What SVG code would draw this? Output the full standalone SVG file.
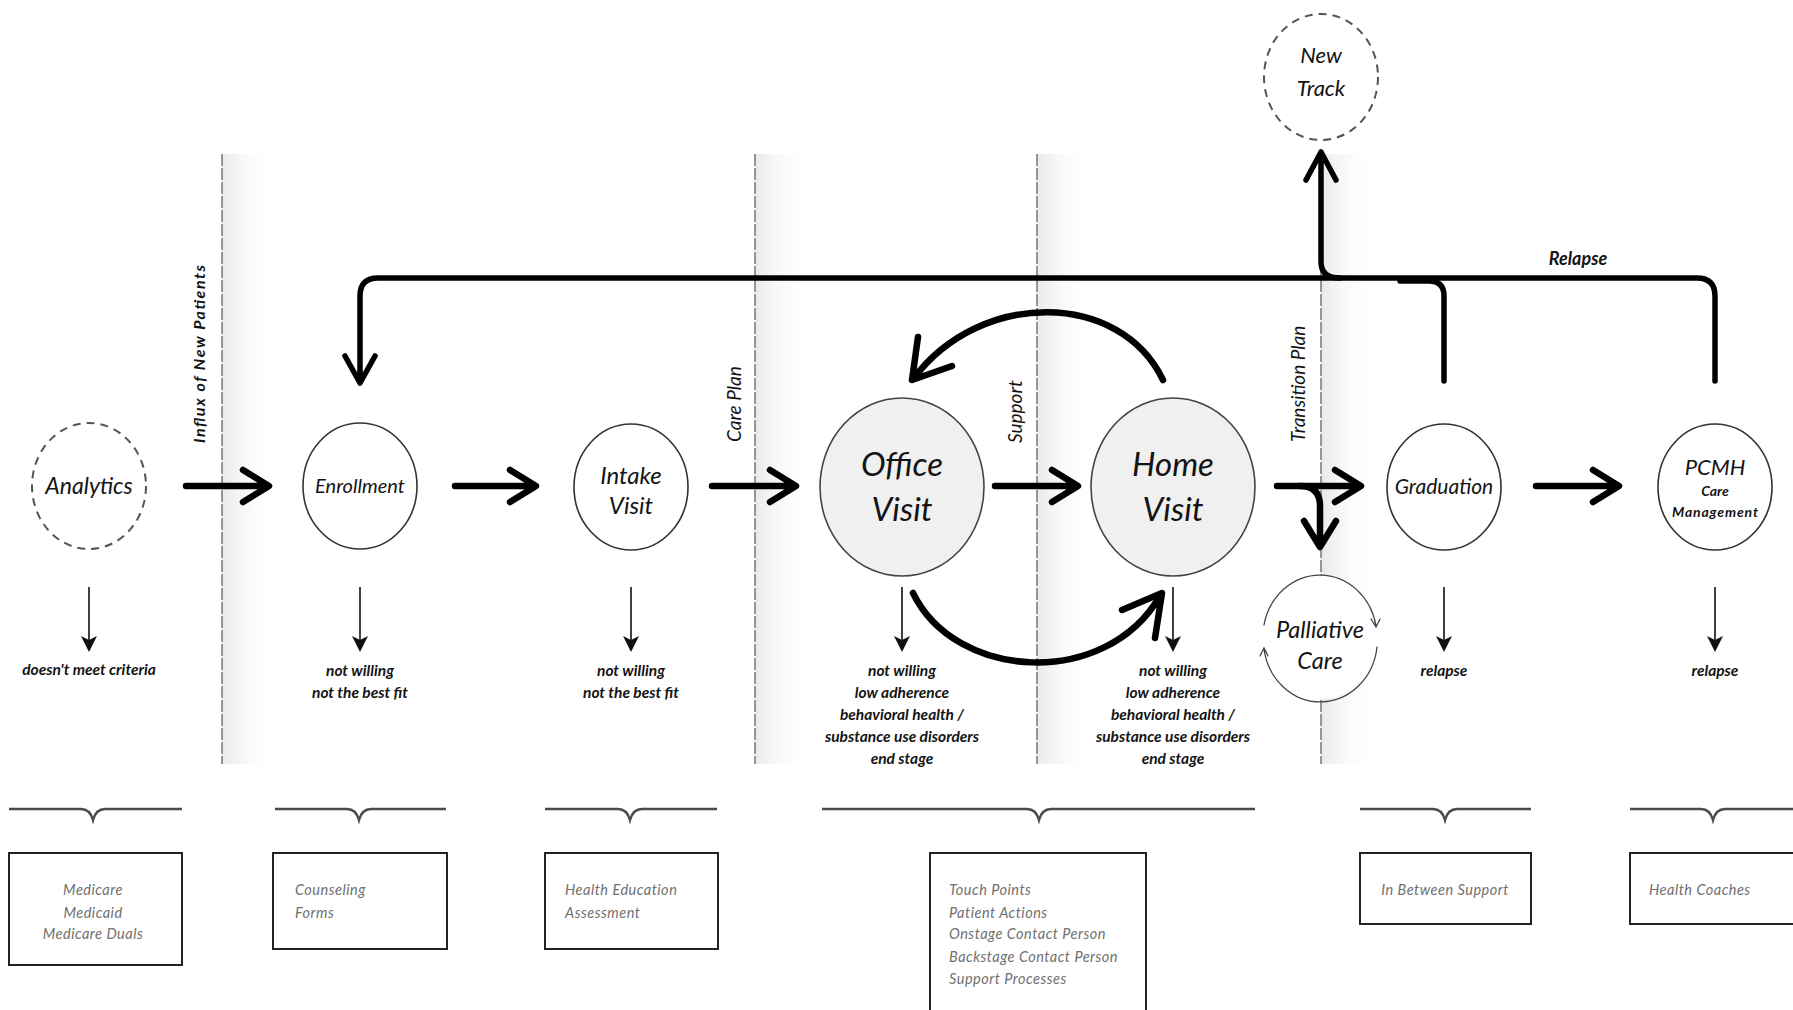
<svg xmlns="http://www.w3.org/2000/svg" width="1793" height="1010" viewBox="0 0 1793 1010">
  <defs>
    <linearGradient id="lane" x1="0" y1="0" x2="1" y2="0">
      <stop offset="0" stop-color="#e8eae9"/>
      <stop offset="1" stop-color="#ffffff" stop-opacity="0"/>
    </linearGradient>
    <style>
      text { font-family: Lato, "Open Sans", "Liberation Sans", sans-serif; fill: #141414; }
      .lbl { font-style: italic; text-anchor: middle; }
      .note { font-style: italic; font-weight: bold; font-size: 15.5px; text-anchor: middle; }
      .lane-title { font-style: italic; font-size: 19px; }
      .box-txt { font-style: italic; font-size: 14.5px; letter-spacing: 0.5px; fill: #707070; }
      .divider { stroke: #555; stroke-width: 1.2; stroke-dasharray: 12 2; fill: none; }
      .node { fill: #ffffff; stroke: #333; stroke-width: 1.6; }
      .node-dash { fill: #ffffff; stroke: #555; stroke-width: 2; stroke-dasharray: 8 6; }
      .node-main { fill: #eff0ef; stroke: #444; stroke-width: 1.6; }
      .flow { fill: none; stroke: #000; stroke-width: 6.5; stroke-linecap: round; stroke-linejoin: round; }
      .loop { fill: none; stroke: #000; stroke-width: 5.5; stroke-linecap: round; stroke-linejoin: round; }
      .drop { fill: none; stroke: #111; stroke-width: 1.6; }
      .drop-head { fill: #111; }
      .brace { fill: none; stroke: #4a4a4a; stroke-width: 2.5; }
      .box { fill: #ffffff; stroke: #222; stroke-width: 2; }
      .thin { fill: none; stroke: #444; stroke-width: 1.3; stroke-linecap: round; }
    </style>
  </defs>

  <!-- lane shading and dividers -->
  <g id="lanes">
    <rect x="222" y="154" width="55" height="610" fill="url(#lane)"/>
    <rect x="755" y="154" width="55" height="610" fill="url(#lane)"/>
    <rect x="1037" y="154" width="55" height="610" fill="url(#lane)"/>
    <rect x="1321" y="154" width="55" height="610" fill="url(#lane)"/>
    <line class="divider" x1="222" y1="154" x2="222" y2="764"/>
    <line class="divider" x1="755" y1="154" x2="755" y2="764"/>
    <line class="divider" x1="1037" y1="154" x2="1037" y2="764"/>
    <line class="divider" x1="1321" y1="154" x2="1321" y2="764"/>
    <text class="lane-title" style="font-weight:bold;font-size:16px" transform="translate(205,443) rotate(-90)" textLength="178" lengthAdjust="spacing">Influx of New Patients</text>
    <text class="lane-title" transform="translate(741,442) rotate(-90)">Care Plan</text>
    <text class="lane-title" transform="translate(1022,443) rotate(-90)">Support</text>
    <text class="lane-title" transform="translate(1305,442) rotate(-90)">Transition Plan</text>
  </g>

  <!-- connectors -->
  <g id="connectors">
    <!-- main flow -->
    <path class="flow" d="M186,486 H268 M243,470 L269,486 L243,502"/>
    <path class="flow" d="M455,486 H535 M510,470 L536,486 L510,502"/>
    <path class="flow" d="M712,486 H795 M770,470 L796,486 L770,502"/>
    <path class="flow" d="M995,486 H1077 M1052,470 L1078,486 L1052,502"/>
    <path class="flow" d="M1277,486 H1360 M1335,470 L1361,486 L1335,502"/>
    <path class="flow" d="M1300,486 Q1320,486 1320,506 V546 M1304,521 L1320,547 L1336,521"/>
    <path class="flow" d="M1536,486 H1618 M1593,470 L1619,486 L1593,502"/>

    <!-- office / home loop -->
    <path class="flow" d="M1163,380 C1120,290 980,290 914,378 M918,337 L912,380 L952,366"/>
    <path class="flow" d="M913,593 C955,680 1105,690 1160,596 M1122,610 L1162,593 L1155,638"/>

    <!-- relapse and new track -->
    <path class="loop" d="M1715,381 V296 Q1715,278 1697,278 H378 Q360,278 360,296 V382 M345,356 L360,383 L375,356"/>
    <path class="loop" d="M1444,381 V296 Q1444,281 1429,281 H1400"/>
    <path class="loop" d="M1340,278 Q1321,278 1321,262 V154 M1306,180 L1321,152 L1336,180"/>
    <text x="1578" y="265" class="note" style="font-size:18px">Relapse</text>

    <!-- drop-off arrows -->
    <g>
      <path class="drop" d="M89,587 V642 M360,587 V642 M631,587 V642 M902,587 V642 M1173,587 V642 M1444,587 V642 M1715,587 V642"/>
      <path class="drop-head" d="M81,636 L89,652 L97,636 L89,640 Z"/>
      <path class="drop-head" d="M352,636 L360,652 L368,636 L360,640 Z"/>
      <path class="drop-head" d="M623,636 L631,652 L639,636 L631,640 Z"/>
      <path class="drop-head" d="M894,636 L902,652 L910,636 L902,640 Z"/>
      <path class="drop-head" d="M1165,636 L1173,652 L1181,636 L1173,640 Z"/>
      <path class="drop-head" d="M1436,636 L1444,652 L1452,636 L1444,640 Z"/>
      <path class="drop-head" d="M1707,636 L1715,652 L1723,636 L1715,640 Z"/>
    </g>

    <!-- braces -->
    <path class="brace" d="M9,809 H81 Q90,809 93,820 Q96,809 105,809 H182"/>
    <path class="brace" d="M275,809 H347 Q356,809 359,820 Q362,809 371,809 H446"/>
    <path class="brace" d="M545,809 H618 Q627,809 630,820 Q633,809 642,809 H717"/>
    <path class="brace" d="M822,809 H1027 Q1036,809 1039,820 Q1042,809 1051,809 H1255"/>
    <path class="brace" d="M1360,809 H1433 Q1442,809 1445,820 Q1448,809 1457,809 H1531"/>
    <path class="brace" d="M1630,809 H1701 Q1710,809 1713,820 Q1716,809 1725,809 H1800"/>
  </g>

  <!-- nodes -->
  <g id="node-new-track">
    <ellipse class="node-dash" cx="1321" cy="77" rx="57" ry="63"/>
    <text class="lbl" x="1321" y="63" font-size="22">New</text>
    <text class="lbl" x="1321" y="96" font-size="22">Track</text>
  </g>

  <g id="node-analytics">
    <ellipse class="node-dash" cx="89" cy="486" rx="57" ry="63"/>
    <text class="lbl" x="89" y="494" font-size="23">Analytics</text>
    <text class="note" x="89" y="675">doesn't meet criteria</text>
  </g>

  <g id="node-enrollment">
    <ellipse class="node" cx="360" cy="486" rx="57" ry="63"/>
    <text class="lbl" x="360" y="493" font-size="20">Enrollment</text>
    <text class="note" x="360" y="676">not willing</text>
    <text class="note" x="360" y="698">not the best fit</text>
  </g>

  <g id="node-intake">
    <ellipse class="node" cx="631" cy="487" rx="57" ry="63"/>
    <text class="lbl" x="631" y="484" font-size="24">Intake</text>
    <text class="lbl" x="631" y="514" font-size="24">Visit</text>
    <text class="note" x="631" y="676">not willing</text>
    <text class="note" x="631" y="698">not the best fit</text>
  </g>

  <g id="node-office">
    <ellipse class="node-main" cx="902" cy="487" rx="82" ry="89"/>
    <text class="lbl" x="902" y="476" font-size="33">Office</text>
    <text class="lbl" x="902" y="521" font-size="33">Visit</text>
    <text class="note" x="902" y="676">not willing</text>
    <text class="note" x="902" y="698">low adherence</text>
    <text class="note" x="902" y="720">behavioral health /</text>
    <text class="note" x="902" y="742">substance use disorders</text>
    <text class="note" x="902" y="764">end stage</text>
  </g>

  <g id="node-home">
    <ellipse class="node-main" cx="1173" cy="487" rx="82" ry="89"/>
    <text class="lbl" x="1173" y="476" font-size="33">Home</text>
    <text class="lbl" x="1173" y="521" font-size="33">Visit</text>
    <text class="note" x="1173" y="676">not willing</text>
    <text class="note" x="1173" y="698">low adherence</text>
    <text class="note" x="1173" y="720">behavioral health /</text>
    <text class="note" x="1173" y="742">substance use disorders</text>
    <text class="note" x="1173" y="764">end stage</text>
  </g>

  <g id="node-palliative">
    <ellipse cx="1320" cy="637" rx="57" ry="62" fill="#ffffff"/>
    <path class="thin" d="M1264,625 A57,62 0 0,1 1376,626 M1371,619 L1376,627 L1380,619"/>
    <path class="thin" d="M1377,647 A57,62 0 0,1 1264,649 M1260,656 L1264,648 L1268,656"/>
    <text class="lbl" x="1320" y="638" font-size="23.5">Palliative</text>
    <text class="lbl" x="1320" y="669" font-size="23.5">Care</text>
  </g>

  <g id="node-graduation">
    <ellipse class="node" cx="1444" cy="487" rx="57" ry="63"/>
    <text class="lbl" x="1444" y="494" font-size="21">Graduation</text>
    <text class="note" x="1444" y="676">relapse</text>
  </g>

  <g id="node-pcmh">
    <ellipse class="node" cx="1715" cy="487" rx="57" ry="63"/>
    <text class="lbl" x="1715" y="475" font-size="22">PCMH</text>
    <text class="note" x="1715" y="496" style="font-size:14px">Care</text>
    <text class="note" x="1715" y="517" style="font-size:14px" textLength="86" lengthAdjust="spacing">Management</text>
    <text class="note" x="1715" y="676">relapse</text>
  </g>

  <!-- resource boxes -->
  <g id="box-analytics">
    <rect class="box" x="9" y="853" width="173" height="112"/>
    <text class="box-txt" x="93" y="895" text-anchor="middle">Medicare</text>
    <text class="box-txt" x="93" y="918" text-anchor="middle">Medicaid</text>
    <text class="box-txt" x="93" y="939" text-anchor="middle">Medicare Duals</text>
  </g>
  <g id="box-enrollment">
    <rect class="box" x="273" y="853" width="174" height="96"/>
    <text class="box-txt" x="295" y="895">Counseling</text>
    <text class="box-txt" x="295" y="918">Forms</text>
  </g>
  <g id="box-intake">
    <rect class="box" x="545" y="853" width="173" height="96"/>
    <text class="box-txt" x="565" y="895">Health Education</text>
    <text class="box-txt" x="565" y="918">Assessment</text>
  </g>
  <g id="box-visits">
    <rect class="box" x="930" y="853" width="216" height="170"/>
    <text class="box-txt" x="949" y="895">Touch Points</text>
    <text class="box-txt" x="949" y="918">Patient Actions</text>
    <text class="box-txt" x="949" y="939">Onstage Contact Person</text>
    <text class="box-txt" x="949" y="962">Backstage Contact Person</text>
    <text class="box-txt" x="949" y="984">Support Processes</text>
  </g>
  <g id="box-graduation">
    <rect class="box" x="1360" y="853" width="171" height="71"/>
    <text class="box-txt" x="1445" y="895" text-anchor="middle">In Between Support</text>
  </g>
  <g id="box-pcmh">
    <rect class="box" x="1630" y="853" width="180" height="71"/>
    <text class="box-txt" x="1649" y="895">Health Coaches</text>
  </g>
</svg>
